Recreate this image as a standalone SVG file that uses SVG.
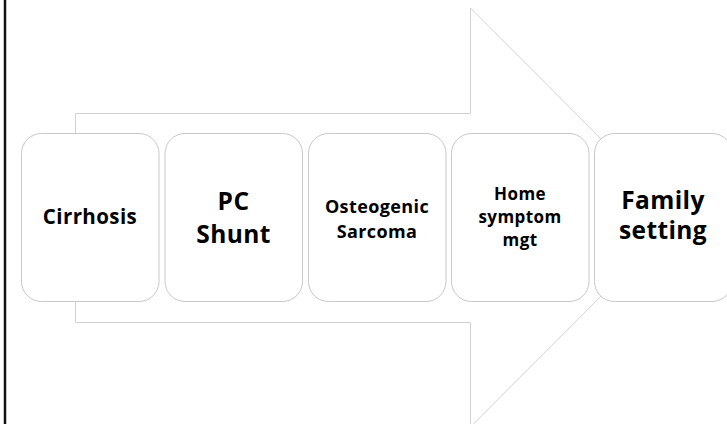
<svg xmlns="http://www.w3.org/2000/svg" width="727" height="424" viewBox="0 0 727 424">
  <style>
    .arrow { fill: #ffffff; stroke: #d2d2d2; stroke-width: 1; }
    .box { fill: #ffffff; stroke: #c8c8c8; stroke-width: 1; }
    .lbl { font-family: "Open Sans", "Noto Sans", sans-serif; font-weight: bold; fill: #000000; text-anchor: middle; letter-spacing: 0.4px; }
  </style>
  <rect x="0" y="0" width="727" height="424" fill="#ffffff"/>
  <!-- left frame edge -->
  <line x1="5" y1="0" x2="5" y2="424" stroke="#111111" stroke-width="2.5"/>

  <!-- connectors: the big process arrow behind the steps -->
  <g id="connectors">
    <path class="arrow" d="M75.5,113.5 H470.5 V8 L679.5,217.5 L470.5,427 V322.5 H75.5 Z"/>
  </g>

  <g id="step-cirrhosis">
    <rect class="box" x="21.5" y="133.5" width="137.5" height="168" rx="20"/>
    <text class="lbl" x="90" y="223.5" font-size="20.5">Cirrhosis</text>
  </g>

  <g id="step-pc-shunt">
    <rect class="box" x="165" y="133.5" width="137.5" height="168" rx="20"/>
    <text class="lbl" x="233.5" font-size="24.5"><tspan x="233.5" y="209.5">PC</tspan><tspan x="233.5" y="242.5">Shunt</tspan></text>
  </g>

  <g id="step-osteogenic-sarcoma">
    <rect class="box" x="308.5" y="133.5" width="137.5" height="168" rx="20"/>
    <text class="lbl" x="377" font-size="18"><tspan x="377" y="212.5">Osteogenic</tspan><tspan x="377" y="237.5">Sarcoma</tspan></text>
  </g>

  <g id="step-home-symptom-mgt">
    <rect class="box" x="451.5" y="133.5" width="137.5" height="168" rx="20"/>
    <text class="lbl" x="520" font-size="17"><tspan x="520" y="200">Home</tspan><tspan x="520" y="223">symptom</tspan><tspan x="520" y="246">mgt</tspan></text>
  </g>

  <g id="step-family-setting">
    <rect class="box" x="594.5" y="133.5" width="137.5" height="168" rx="20"/>
    <text class="lbl" x="663" font-size="24.5"><tspan x="663" y="209">Family</tspan><tspan x="663" y="239">setting</tspan></text>
  </g>
</svg>
